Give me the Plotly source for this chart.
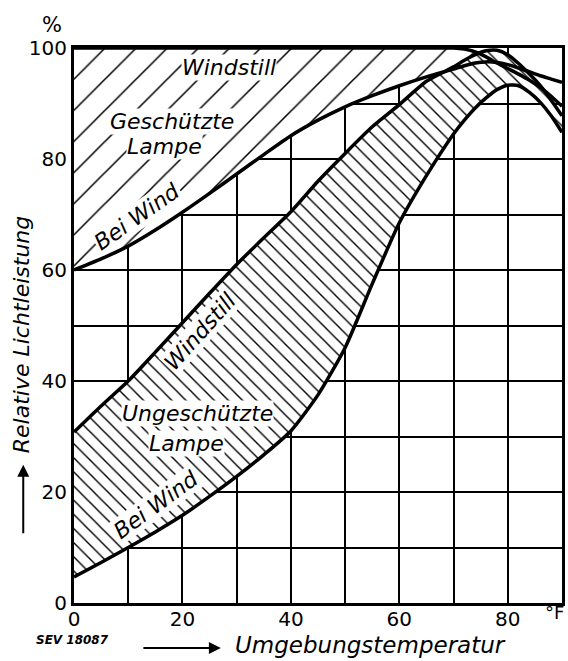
import plotly.graph_objects as go

# ---- data ----
temp_f = [0, 5, 10, 15, 20, 25, 30, 35, 40, 45, 50, 55, 60, 65, 70, 72, 74, 76, 78, 80, 82, 84, 86, 88, 90]

geschuetzt_windstill = [100, 100, 100, 100, 100, 100, 100, 100, 100, 100, 100, 100, 100, 100, 100,
                        99.8, 99.3, 98.4, 97.3, 96.3, 95.3, 94.2, 92.9, 91.3, 89.5]
geschuetzt_bei_wind = [60, 62, 64.3, 67.2, 70.4, 73.8, 77.3, 80.8, 84.2, 87.0, 89.4, 91.4, 93.2, 94.8, 96.2,
                       96.8, 97.3, 97.5, 97.4, 97.0, 96.4, 95.7, 95.0, 94.4, 93.8]
ungeschuetzt_windstill = [30.8, 35.5, 40, 45.2, 50.5, 55.8, 61, 65.8, 70.5, 76, 81, 85.8, 89.8, 94, 96.6,
                          97.8, 98.8, 99.5, 99.6, 98.8, 97.2, 95.3, 93.2, 90.6, 87.8]
ungeschuetzt_bei_wind = [4.7, 7.3, 10, 12.8, 15.8, 19.2, 22.8, 26.7, 31, 37.5, 46, 57.5, 68.5, 77, 84.5,
                         87, 89.2, 91, 92.5, 93.3, 93.2, 92, 90.2, 87.8, 84.8]

x_grid = [0, 10, 20, 30, 40, 50, 60, 70, 80, 90]
x_ticktext = ["0", "", "20", "", "40", "", "60", "", "80", ""]
y_grid = [0, 10, 20, 30, 40, 50, 60, 70, 80, 90, 100]
y_ticktext = ["0", "", "20", "", "40", "", "60", "", "80", "", "100"]

# ---- figure ----
fig = go.Figure()

# upper hatched band (protected lamp), where windstill >= bei wind
idx = [i for i in range(len(temp_f)) if geschuetzt_windstill[i] >= geschuetzt_bei_wind[i]]
up_x = [temp_f[i] for i in idx] + [temp_f[i] for i in reversed(idx)]
up_y = [geschuetzt_windstill[i] for i in idx] + [geschuetzt_bei_wind[i] for i in reversed(idx)]
fig.add_trace(go.Scatter(
    x=up_x, y=up_y, mode="lines", fill="toself", fillcolor="white",
    fillpattern=dict(shape="/", size=22, solidity=0.07, fgcolor="black", bgcolor="white",
                     fgopacity=1, fillmode="replace"),
    line=dict(width=0, color="rgba(0,0,0,0)"), hoverinfo="skip", showlegend=False))

# lower hatched band (unprotected lamp)
lo_x = temp_f + temp_f[::-1]
lo_y = ungeschuetzt_windstill + ungeschuetzt_bei_wind[::-1]
fig.add_trace(go.Scatter(
    x=lo_x, y=lo_y, mode="lines", fill="toself", fillcolor="white",
    fillpattern=dict(shape="\\", size=10, solidity=0.14, fgcolor="black", bgcolor="white",
                     fgopacity=1, fillmode="replace"),
    line=dict(width=0, color="rgba(0,0,0,0)"), hoverinfo="skip", showlegend=False))

for ys in [geschuetzt_windstill, geschuetzt_bei_wind, ungeschuetzt_windstill, ungeschuetzt_bei_wind]:
    fig.add_trace(go.Scatter(x=temp_f, y=ys, mode="lines",
                             line=dict(color="black", width=3.5, shape="spline", smoothing=0.6),
                             hoverinfo="skip", showlegend=False))

lab_font = dict(family="DejaVu Sans", size=22, color="black", style="italic")

labels = [
    ("Windstill", 28.5, 96.4, 0),
    ("Geschützte", 18.0, 86.8, 0),
    ("Lampe", 16.6, 82.2, 0),
    ("Bei Wind", 11.7, 69.6, -35),
    ("Windstill", 23.3, 48.9, -48),
    ("Ungeschützte", 22.7, 34.2, 0),
    ("Lampe", 20.7, 28.8, 0),
    ("Bei Wind", 15.2, 17.7, -36),
]
for t, x, y, a in labels:
    fig.add_annotation(x=x, y=y, xref="x", yref="y", text=t, showarrow=False,
                       xanchor="center", yanchor="middle",
                       textangle=a, font=lab_font, bgcolor="white", borderpad=0)

# outside texts (paper coordinates)
def paper_text(text, x, y, font, angle=0):
    fig.add_annotation(x=x, y=y, xref="paper", yref="paper", text=text, showarrow=False,
                       xanchor="center", yanchor="middle", textangle=angle, font=font)

paper_text("%", -0.045, 1.041, dict(family="DejaVu Sans", size=21, color="black"))
paper_text("Relative Lichtleistung", -0.106, 0.483, lab_font, -90)
paper_text("°F", 0.984, -0.017, dict(family="DejaVu Sans", size=18, color="black"))
paper_text("<b><i>SEV 18087</i></b>", -0.004, -0.067, dict(family="DejaVu Sans", size=12, color="black"))
paper_text("Umgebungstemperatur", 0.607, -0.0765,
           dict(family="DejaVu Sans", size=23, color="black", style="italic"))

fig.add_annotation(x=-0.104, y=0.249, xref="paper", yref="paper", text="", showarrow=True,
                   ax=0, ay=70, arrowhead=2, arrowsize=1.2, arrowwidth=2, arrowcolor="black")
fig.add_annotation(x=0.301, y=-0.081, xref="paper", yref="paper", text="", showarrow=True,
                   ax=-79, ay=0, arrowhead=2, arrowsize=1.2, arrowwidth=2, arrowcolor="black")

tick_font = dict(family="DejaVu Sans", size=20, color="black")
fig.update_xaxes(range=[0, 90], tickvals=x_grid, ticktext=x_ticktext, showgrid=True,
                 gridcolor="black", gridwidth=1.6, zeroline=False, showline=True, linecolor="black",
                 linewidth=3, mirror=True, ticks="", tickfont=tick_font, ticklabelstandoff=-4)
fig.update_yaxes(range=[0, 100], tickvals=y_grid, ticktext=y_ticktext, showgrid=True,
                 gridcolor="black", gridwidth=1.6, zeroline=False, showline=True, linecolor="black",
                 linewidth=3, mirror=True, ticks="", tickfont=tick_font)
fig.update_layout(width=568, height=661, margin=dict(l=74, r=3, t=48, b=58),
                  paper_bgcolor="white", plot_bgcolor="white", showlegend=False)

fig.write_html("out.html", config={"displayModeBar": False},
               post_script="document.body.style.margin='0';document.body.style.overflow='hidden';")
